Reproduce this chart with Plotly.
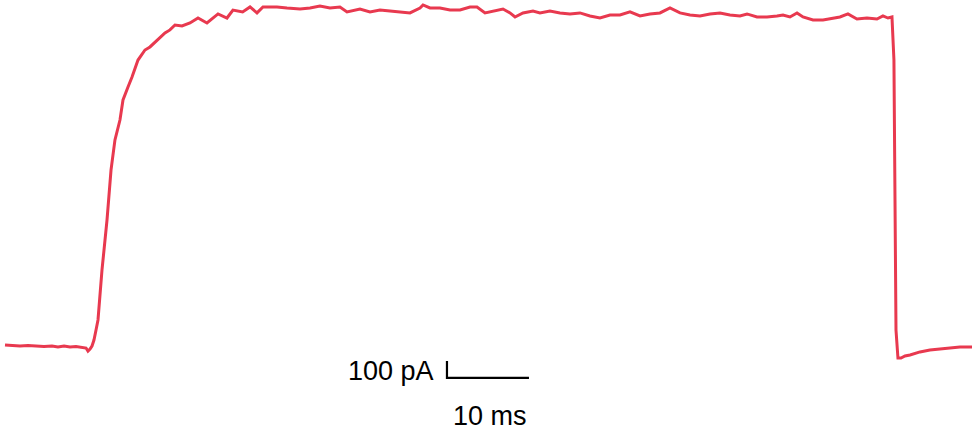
import plotly.graph_objects as go

# Time (ms) and current (pA)
time_ms = [0, 0.85, 1.83, 2.80, 3.78, 4.76, 5.73, 6.46, 7.20, 7.93, 8.66, 9.39, 9.88, 10.12, 10.37, 10.61, 10.85, 11.10,
           11.34, 11.83, 12.44, 12.93, 13.41, 14.02, 14.39, 15.0, 15.49, 16.22, 17.07, 17.68, 18.54, 19.51, 20.12,
           20.73, 21.59, 22.56, 23.54, 24.63, 25.98, 27.07, 27.80, 28.98, 29.88, 30.73, 31.46, 33.17, 34.39, 35.98,
           37.20, 38.41, 39.63, 40.85, 41.71, 43.29, 44.51, 45.73, 46.95, 48.17, 49.39, 50.61, 50.98, 51.83, 53.05,
           54.27, 55.49, 56.71, 57.56, 58.54, 59.76, 60.73, 61.59, 62.20, 63.17, 64.39, 65.24, 66.46, 67.68, 68.90,
           70.12, 71.34, 72.56, 73.78, 75.0, 76.22, 77.44, 78.66, 79.88, 81.10, 82.32, 83.54, 84.76, 85.98, 87.20,
           88.41, 89.63, 90.49, 91.71, 92.93, 94.15, 94.88, 95.73, 96.59, 97.32, 98.54, 99.76, 100.98, 101.83,
           102.80, 103.90, 105.12, 106.34, 107.07, 107.68, 108.17, 108.41, 108.54, 108.66, 108.90, 109.27, 109.76,
           110.37, 111.59, 112.80, 114.02, 115.24, 116.46, 117.93]
current_pA = [12, 9, 6, 9, 6, 3, 6, 0, 6, 0, 3, 0, -6, -24, -12, 6, 41, 100,
              159, 453, 747, 1041, 1218, 1335, 1453, 1529, 1588, 1688, 1747, 1765, 1806, 1847, 1865,
              1894, 1888, 1906, 1935, 1906, 1959, 1935, 1982, 1971, 2000, 1965, 2000, 2000, 1994, 1988,
              1994, 2006, 1994, 2000, 1971, 1988, 1971, 1982, 1976, 1971, 1965, 1994, 2012, 1994, 1994,
              1982, 1982, 2000, 2000, 1965, 1976, 1988, 1965, 1941, 1965, 1976, 1965, 1976, 1965, 1959,
              1965, 1947, 1935, 1953, 1953, 1971, 1947, 1959, 1965, 1994, 1965, 1953, 1947, 1959, 1965,
              1953, 1947, 1959, 1941, 1941, 1947, 1953, 1941, 1965, 1941, 1924, 1924, 1935, 1941,
              1959, 1929, 1935, 1929, 1947, 1935, 1941, 1688, 865, 100, -65, -65, -53,
              -47, -29, -18, -12, -6, 0, 0]

# Scale bar
scale_t_ms = 10
scale_i_pA = 100
scale_origin = (53.9, -182)
scale_labels = ["100 pA", "10 ms"]

color = "#e8394f"

fig = go.Figure()
fig.add_trace(go.Scatter(x=time_ms, y=current_pA, mode="lines",
                         line=dict(color=color, width=3), hoverinfo="skip"))

x0, y0 = scale_origin
fig.add_trace(go.Scatter(x=[x0, x0, x0 + scale_t_ms], y=[y0 + scale_i_pA, y0, y0],
                         mode="lines", line=dict(color="black", width=2.2), hoverinfo="skip"))

font = dict(family="Liberation Sans, Arial, sans-serif", size=27, color="black")
fig.add_annotation(x=x0, y=y0 + scale_i_pA / 2, text=scale_labels[0], showarrow=False,
                   xanchor="right", yanchor="middle", xshift=-11, yshift=-2, font=font)
fig.add_annotation(x=x0 + scale_t_ms / 2, y=y0, text=scale_labels[1], showarrow=False,
                   xanchor="center", yanchor="middle", height=22, valign="middle",
                   yshift=-38, xshift=2, font=font)

fig.update_layout(
    width=977, height=431,
    margin=dict(l=0, r=0, t=0, b=0),
    paper_bgcolor="white", plot_bgcolor="white",
    showlegend=False,
    xaxis=dict(range=[-0.61, 118.54], visible=False, fixedrange=True),
    yaxis=dict(range=[-494, 2041], visible=False, fixedrange=True),
)

fig.write_html("out.html", config={"displayModeBar": False},
               post_script="document.body.style.margin='0';document.body.style.overflow='hidden';")
